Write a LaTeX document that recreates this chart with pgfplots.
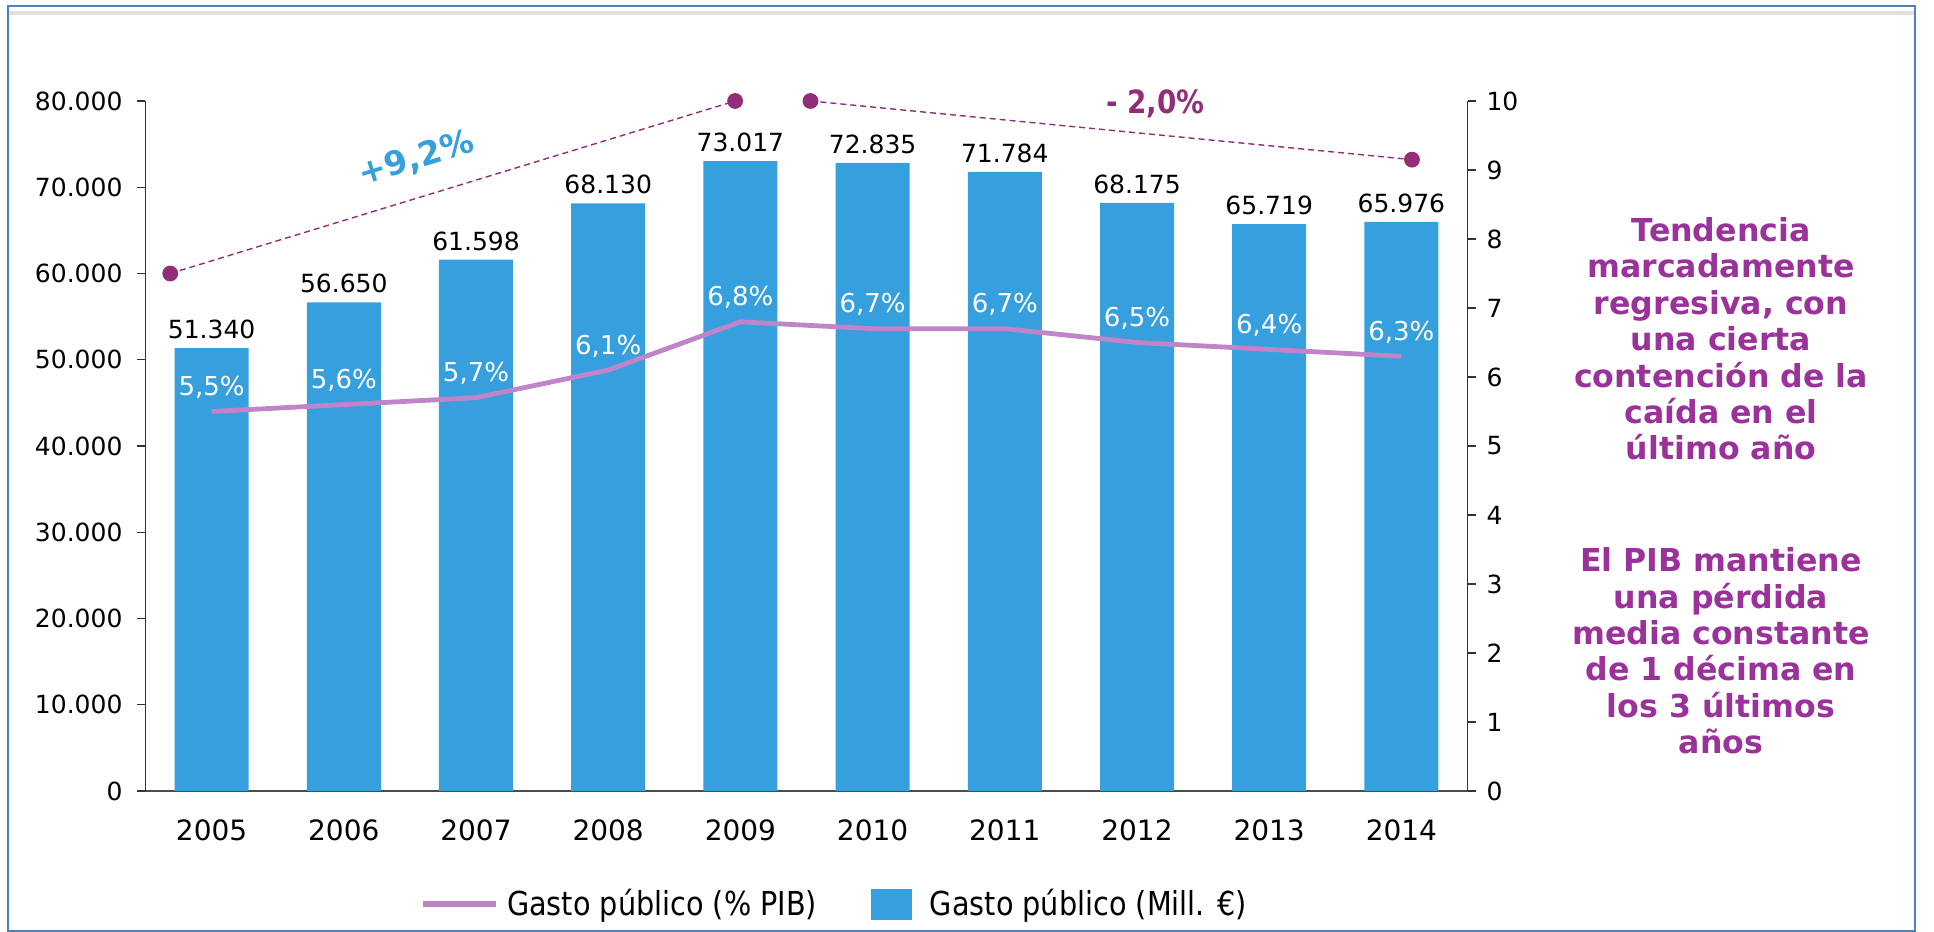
\documentclass[border=0pt]{standalone}
\usepackage{pgfplots}
\pgfplotsset{compat=1.18}
\usepackage{fontspec}
\setmainfont{DejaVu Sans}
\newfontfamily\condfont[FakeStretch=0.87]{DejaVu Sans}
\definecolor{barblue}{RGB}{54,159,221}
\definecolor{linelav}{RGB}{192,132,200}
\definecolor{dotpurple}{RGB}{147,45,120}
\definecolor{txtpurple}{RGB}{155,50,155}
\definecolor{framebl}{RGB}{79,129,189}
\newcommand\tf{\fontsize{12.5}{15}\selectfont}
\begin{document}
\begin{tikzpicture}[x=1pt,y=1pt]
\path[use as bounding box] (0,0) rectangle (967,466);
\draw[black!12, line width=1.6pt] (4,459.5) -- (957.5,459.5);
\draw[framebl, line width=1.2pt] (4,0.6) rectangle (957.5,463);

\begin{axis}[
  at={(72.75pt,70.5pt)}, anchor=south west,
  scale only axis, width=661pt, height=345pt,
  xmin=-0.5, xmax=9.5, ymin=0, ymax=80000,
  axis y line*=left, axis x line*=bottom,
  axis line style={-},
  x axis line style={line width=1.3pt, draw=black!70},
  y axis line style={line width=0.6pt, draw=black!80},
  xtick={0,...,9},
  xticklabels={2005,2006,2007,2008,2009,2010,2011,2012,2013,2014},
  xtick style={draw=none},
  xticklabel style={font=\fontsize{14}{16}\selectfont, yshift=-7pt},
  ytick={0,10000,...,80000},
  scaled y ticks=false,
  tick align=outside, major tick length=4pt,
  ytick style={black!80, line width=0.6pt},
  yticklabel style={font=\tf, xshift=-4pt},
  /pgf/number format/.cd, fixed, precision=0, 1000 sep={.}, assume math mode=true,
  /pgfplots/.cd,
]
\addplot[ybar, bar width=37pt, fill=barblue, draw=none,
  nodes near coords,
  every node near coord/.append style={font=\tf, black, yshift=1pt}]
  coordinates {(0,51340) (1,56650) (2,61598) (3,68130) (4,73017)
               (5,72835) (6,71784) (7,68175) (8,65719) (9,65976)};
\end{axis}

\begin{axis}[
  at={(72.75pt,70.5pt)}, anchor=south west,
  scale only axis, width=661pt, height=345pt,
  xmin=-0.5, xmax=9.5, ymin=0, ymax=10,
  axis y line*=right, axis x line=none,
  axis line style={-},
  y axis line style={line width=0.6pt, draw=black!80},
  ytick={0,...,10},
  tick align=outside, major tick length=4pt,
  ytick style={black!80, line width=0.6pt},
  yticklabel style={font=\tf, xshift=2pt},
  clip=false,
  /pgf/number format/assume math mode=true,
  legend style={at={(0.5216,-0.164)}, anchor=center, draw=none, fill=none,
    font=\condfont\fontsize{16.5}{19}\selectfont, legend columns=2,
    /tikz/every even column/.append style={column sep=25pt}},
]
\addplot[linelav, line width=2.4pt,
  nodes near coords={\pgfmathprintnumber[fixed,fixed zerofill,precision=1,use comma]{\pgfplotspointmeta}\%},
  every node near coord/.append style={font=\fontsize{13}{15}\selectfont, white, yshift=2pt},
  legend image code/.code={\draw[linelav, line width=3pt] (0pt,0pt) -- (36.5pt,0pt); \path (39pt,0pt);}]
  coordinates {(0,5.5) (1,5.6) (2,5.7) (3,6.1) (4,6.8)
               (5,6.7) (6,6.7) (7,6.5) (8,6.4) (9,6.3)};
\addlegendentry{Gasto público (\% PIB)}
\addlegendimage{legend image code/.code={\fill[barblue] (0pt,-7.5pt) rectangle (20pt,7.5pt); \path (27pt,0pt);}}
\addlegendentry{Gasto público (Mill. €)}

\addplot[forget plot, dotpurple, densely dashed, line width=0.7pt,
  mark=*, mark size=3.6pt, mark options={solid}]
  coordinates {(-0.313,7.5) (3.96,10)};
\addplot[forget plot, dotpurple, densely dashed, line width=0.7pt,
  mark=*, mark size=3.6pt, mark options={solid}]
  coordinates {(4.53,10) (9.08,9.15)};

\node[rotate=17, font=\bfseries\fontsize{16.5}{19}\selectfont, text=barblue]
  at (axis cs:1.55,9.16) {+9,2\%};
\node[font=\condfont\bfseries\fontsize{16}{19}\selectfont, text=dotpurple]
  at (axis cs:7.14,9.96) {- 2,0\%};
\end{axis}

\node[align=center, font=\bfseries\fontsize{15.8}{18.2}\selectfont, text=txtpurple]
  at (860.5,296.5) {Tendencia\\marcadamente\\regresiva, con\\una cierta\\contención de la\\caída en el\\último año};
\node[align=center, font=\bfseries\fontsize{15.8}{18.2}\selectfont, text=txtpurple]
  at (860.5,140.5) {El PIB mantiene\\una pérdida\\media constante\\de 1 décima en\\los 3 últimos\\años};
\end{tikzpicture}
\end{document}
